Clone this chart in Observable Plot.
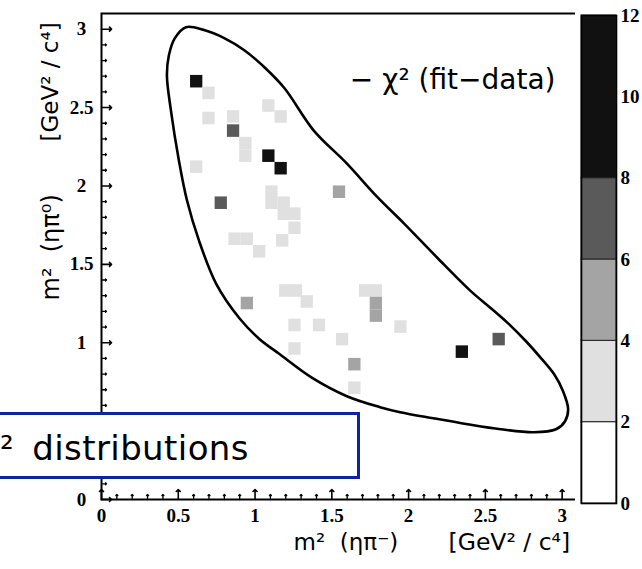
<!DOCTYPE html>
<html><head><meta charset="utf-8">
<script src="https://cdn.jsdelivr.net/npm/d3@7"></script>
<script src="https://cdn.jsdelivr.net/npm/@observablehq/plot@0.6"></script>
<style>
body{margin:0;background:#fff;overflow:hidden}
#wrap{position:relative;width:642px;height:569px;overflow:hidden;background:#fff}
#main,#bar{position:absolute;top:0}
#main{left:0}
#bar{left:575px}
#box{position:absolute;left:-10px;top:412px;width:370px;height:67px;border:3px solid #0b24a0;background:#fff;box-sizing:border-box}
#boxtext{position:absolute;left:0px;top:431px;font-size:34px;line-height:34px;font-family:"Comic Sans MS","DejaVu Sans",sans-serif;color:#000;white-space:nowrap;word-spacing:7px;letter-spacing:0.4px}
</style></head><body>
<div id="wrap"><div id="main"></div><div id="bar"></div><div id="box"></div><div id="boxtext">² distributions</div></div>
<script>
// ---- data ----
// chi^2 cells: centres in m^2(eta pi-) [x] and m^2(eta pi0) [y], GeV^2/c^4
const cellX   = [0.62, 0.70, 0.70, 0.86, 0.86, 0.94, 0.94, 1.09, 1.17, 1.09, 1.17, 0.62, 0.78,
                 1.11, 1.11, 1.19, 1.19, 1.26, 1.26, 0.87, 0.95, 1.03, 1.18, 0.95, 1.20, 1.27,
                 1.34, 1.26, 1.42, 1.26, 1.57, 1.72, 1.79, 1.79, 1.79, 1.95, 1.65, 1.65, 2.35,
                 2.59, 1.55];
const cellY   = [2.665, 2.59, 2.43, 2.44, 2.35, 2.27, 2.19, 2.51, 2.44, 2.19, 2.11, 2.12, 1.89,
                 1.96, 1.89, 1.89, 1.82, 1.82, 1.73, 1.66, 1.66, 1.58, 1.65, 1.25, 1.33, 1.33,
                 1.26, 1.11, 1.11, 0.96, 1.02, 1.33, 1.33, 1.25, 1.17, 1.10, 0.86, 0.71, 0.94,
                 1.02, 1.96];
const cellChi2 = [10, 3, 3, 3, 6.5, 3, 3, 2.5, 2.5, 8.5, 9.5, 3, 6.5,
                  3, 3, 3, 3, 3, 3, 3, 3, 2.5, 3, 4.5, 3, 3,
                  3, 3, 3, 3, 3, 3, 3, 5, 5, 3, 5, 3, 10,
                  7, 5];
const binSize = 0.08;

// kinematic boundary
const boundaryX = [0.550, 0.668, 0.799, 0.930, 1.061, 1.192, 1.381, 1.597, 1.794, 1.971, 2.187,
                   2.403, 2.534, 2.652, 2.763, 2.862, 2.947, 3.006, 3.039, 3.019, 2.960, 2.816,
                   2.600, 2.384, 2.161, 1.945, 1.814, 1.598, 1.375, 1.159, 1.028, 0.897, 0.747,
                   0.635, 0.557, 0.504, 0.452, 0.426, 0.439, 0.478];
const boundaryY = [3.013, 2.994, 2.943, 2.866, 2.757, 2.623, 2.355, 2.144, 1.932, 1.760, 1.542,
                   1.331, 1.222, 1.120, 1.011, 0.902, 0.800, 0.691, 0.576, 0.499, 0.448, 0.429,
                   0.448, 0.480, 0.518, 0.557, 0.589, 0.659, 0.774, 0.928, 1.024, 1.158, 1.376,
                   1.651, 1.907, 2.163, 2.482, 2.706, 2.834, 2.943];

const xTickLabels = [0, 0.5, 1, 1.5, 2, 2.5, 3];
const yTickLabels = [0, 1, 1.5, 2, 2.5, 3];
const majorTicks  = [0, 0.5, 1, 1.5, 2, 2.5, 3];
const minorTicks  = d3.range(1, 31).filter(i => i % 5 !== 0).map(i => i / 10);

const chi2Breaks = [2, 4, 6, 8];
const chi2Colors = ["#ffffff", "#e0e0e0", "#a4a4a4", "#5a5a5a", "#111111"];
const bandLo = [0, 2, 4, 6, 8];
const bandHi = [2, 4, 6, 8, 12];
const barTicks = [0, 2, 4, 6, 8, 10, 12];

const legendLabel = "− χ² (fit−data)";
const xLabelMass = "m²\u00a0 (ηπ⁻)";
const yLabelMass = "m²\u00a0 (ηπ⁰)";
const unitLabel = "[GeV² / c⁴]";

// ---- build ----
const cells = cellX.map((x, i) => ({x, y: cellY[i], v: cellChi2[i]}));
const boundary = boundaryX.map((x, i) => ({x, y: boundaryY[i]}));
const bands = bandLo.map((lo, i) => ({lo, hi: bandHi[i]}));
const h = binSize / 2;
const serifBold = {fontFamily: "'Liberation Serif','Times New Roman',serif", fontWeight: "bold", fontSize: 19};
const sans = "'DejaVu Sans','Liberation Sans',sans-serif";

const main = Plot.plot({
  width: 642, height: 569,
  marginLeft: 101, marginRight: 65, marginTop: 13, marginBottom: 70,
  x: {domain: [0, 3.1], axis: null},
  y: {domain: [0, 3.1], axis: null},
  color: {type: "threshold", domain: chi2Breaks, range: chi2Colors},
  style: {background: "white", color: "black", overflow: "visible"},
  marks: [
    Plot.rect(cells, {x1: d => d.x - h, x2: d => d.x + h, y1: d => d.y - h, y2: d => d.y + h, fill: "v"}),
    Plot.line(boundary, {x: "x", y: "y", curve: "catmull-rom-closed", stroke: "black", strokeWidth: 2.6}),
    Plot.frame({stroke: "black", strokeWidth: 2}),
    Plot.vector(majorTicks, {x: d => d, frameAnchor: "bottom", rotate: 0, length: 10, anchor: "start", stroke: "black", strokeWidth: 1.6}),
    Plot.vector(minorTicks, {x: d => d, frameAnchor: "bottom", rotate: 0, length: 5, anchor: "start", stroke: "black", strokeWidth: 1.3}),
    Plot.vector(majorTicks, {y: d => d, frameAnchor: "left", rotate: 90, length: 10, anchor: "start", stroke: "black", strokeWidth: 1.6}),
    Plot.vector(minorTicks, {y: d => d, frameAnchor: "left", rotate: 90, length: 5, anchor: "start", stroke: "black", strokeWidth: 1.3}),
    Plot.axisX(xTickLabels, {tickSize: 0, tickPadding: 9, label: null, tickFormat: d => String(d), ...serifBold}),
    Plot.axisY(yTickLabels, {tickSize: 0, tickPadding: 0, dx: -20, label: null, textAnchor: "middle", tickFormat: d => String(d), ...serifBold}),
    Plot.text([legendLabel], {text: d => d, frameAnchor: "top-right", dx: -22, dy: 56, textAnchor: "end", fontSize: 28, fontFamily: "'DejaVu Sans',sans-serif"}),
    Plot.text([xLabelMass], {text: d => d, frameAnchor: "bottom-left", dx: 192, dy: 50, textAnchor: "start", fontSize: 23, fontFamily: sans}),
    Plot.text([unitLabel], {text: d => d, frameAnchor: "bottom-left", dx: 347, dy: 50, textAnchor: "start", fontSize: 23.5, fontFamily: sans}),
    Plot.text([yLabelMass], {text: d => d, frameAnchor: "top-left", dx: -60, dy: 287, rotate: -90, textAnchor: "start", fontSize: 24, fontFamily: sans}),
    Plot.text([unitLabel], {text: d => d, frameAnchor: "top-left", dx: -60, dy: 128, rotate: -90, textAnchor: "start", fontSize: 23, fontFamily: sans})
  ]
});
document.getElementById("main").appendChild(main);

const bar = Plot.plot({
  width: 67, height: 569,
  marginLeft: 6, marginRight: 26, marginTop: 15, marginBottom: 66,
  x: {domain: [0, 1], axis: null},
  y: {domain: [0, 12], axis: null},
  color: {type: "threshold", domain: chi2Breaks, range: chi2Colors},
  style: {background: "white", overflow: "visible"},
  marks: [
    Plot.rect(bands, {x1: 0, x2: 1, y1: "lo", y2: "hi", fill: d => (d.lo + d.hi) / 2, stroke: "#222", strokeWidth: 1}),
    Plot.frame({stroke: "black", strokeWidth: 1.6}),
    Plot.axisY(barTicks, {anchor: "right", tickSize: 0, tickPadding: 4, label: null, tickFormat: d => String(d), ...serifBold})
  ]
});
document.getElementById("bar").appendChild(bar);
</script>
</body></html>
